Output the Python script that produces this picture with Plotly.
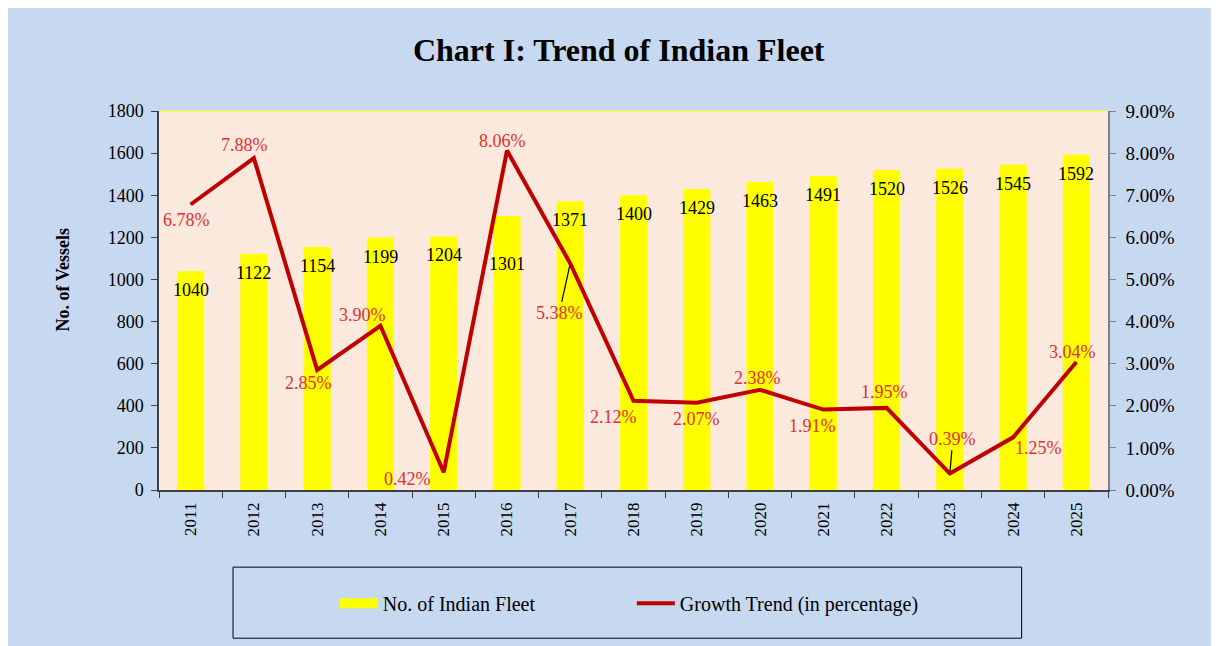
import plotly.graph_objects as go

# ---- data ----
years = ["2011", "2012", "2013", "2014", "2015", "2016", "2017", "2018",
         "2019", "2020", "2021", "2022", "2023", "2024", "2025"]
fleet = [1040, 1122, 1154, 1199, 1204, 1301, 1371, 1400, 1429, 1463, 1491,
         1520, 1526, 1545, 1592]
growth = [6.78, 7.88, 2.85, 3.90, 0.42, 8.06, 5.38, 2.12, 2.07, 2.38, 1.91,
          1.95, 0.39, 1.25, 3.04]
left_ticks = [0, 200, 400, 600, 800, 1000, 1200, 1400, 1600, 1800]
right_ticks = [0, 1, 2, 3, 4, 5, 6, 7, 8, 9]

title_text = "Chart I: Trend of Indian Fleet"
bar_name = "No. of Indian Fleet"
line_name = "Growth Trend (in percentage)"
ytitle = "No. of Vessels"

# ---- styling / label placement ----
SERIF = "Liberation Serif, Times New Roman, serif"
BG = "#C6D9F0"
PLOT_BG = "#FCE9DD"
BAR_C = "#FFFF00"
LINE_C = "#C00000"
PCT_C = "#E2302E"

bar_shift_default = -19
bar_shift_special = {"2016": -48}
# (dx, dy) screen pixel offsets for percentage labels
pct_offsets = {
    "2011": (-4, 16), "2012": (-9, -13), "2013": (-9, 13), "2014": (-18, -11),
    "2015": (-36, 7), "2016": (-4, -10), "2017": (-11, 50), "2018": (-20, 16),
    "2019": (0, 16), "2020": (-3, -12), "2021": (-11, 16), "2022": (-2, -16),
    "2023": (3, -35), "2024": (25, 11), "2025": (-4, -10),
}
arrow_years = {"2017", "2023"}

fig = go.Figure()
fig.add_trace(go.Bar(x=years, y=fleet, name=bar_name, marker_color=BAR_C,
                     marker_line_width=0, yaxis="y", showlegend=False))
# legend-only swatch so the bar key is drawn as a wide rectangle
fig.add_trace(go.Scatter(x=[None], y=[None], name=bar_name, mode="lines",
                         line=dict(color=BAR_C, width=12), yaxis="y"))
fig.add_trace(go.Scatter(x=years, y=growth, name=line_name, mode="lines",
                         line=dict(color=LINE_C, width=4), yaxis="y2"))

ann = []
for i, (yr, v) in enumerate(zip(years, fleet)):
    ann.append(dict(x=i, y=v, xref="x", yref="y", text=str(v), showarrow=False,
                    yshift=bar_shift_special.get(yr, bar_shift_default),
                    font=dict(family=SERIF, size=18, color="black")))
for i, (yr, g) in enumerate(zip(years, growth)):
    dx, dy = pct_offsets[yr]
    txt = f"{g:.2f}%"
    if yr in arrow_years:
        ann.append(dict(x=i, y=g, xref="x", yref="y2", text=txt, showarrow=True,
                        arrowhead=0, arrowwidth=1.2, arrowcolor="black",
                        ax=dx, ay=dy, standoff=2,
                        font=dict(family=SERIF, size=18, color=PCT_C)))
    else:
        ann.append(dict(x=i, y=g, xref="x", yref="y2", text=txt, showarrow=False,
                        xshift=dx, yshift=-dy,
                        font=dict(family=SERIF, size=18, color=PCT_C)))
ann.append(dict(x=-0.114, y=0.555, xref="paper", yref="paper", text=f"<b>{ytitle}</b>",
                textangle=-90, showarrow=False,
                font=dict(family=SERIF, size=18, color="black")))

shapes = [
    # top yellow edge of plot area
    dict(type="line", xref="paper", yref="paper", x0=0, x1=1, y0=1, y1=1,
         line=dict(color="#F5F07A", width=2), layer="above"),
    # legend frame
    dict(type="rect", xref="paper", yref="paper", x0=0.078, x1=0.909, y0=-0.391, y1=-0.2035,
         line=dict(color="black", width=1), fillcolor="rgba(0,0,0,0)", layer="above"),
]

fig.update_layout(
    width=1219, height=646,
    margin=dict(l=151, r=119, t=103, b=164),
    paper_bgcolor=BG, plot_bgcolor=PLOT_BG,
    title=dict(text=f"<b>{title_text}</b>", x=0.501, xanchor="center",
               y=1 - 42 / 646, yanchor="middle",
               font=dict(family=SERIF, size=32, color="black")),
    bargap=0.57,
    showlegend=True,
    legend=dict(orientation="h", x=0.1853, xanchor="left", y=-0.299, yanchor="middle",
                bgcolor="rgba(0,0,0,0)", font=dict(family=SERIF, size=20, color="black"),
                entrywidth=244, traceorder="normal", itemwidth=38),
    xaxis=dict(type="category", range=[-0.5, len(years) - 0.5], autorange=False,
               showgrid=False, showline=True, linecolor="#404040",
               linewidth=1.5, ticks="outside", tickson="boundaries", ticklen=6,
               tickcolor="#404040", tickangle=-90,
               tickfont=dict(family=SERIF, size=17, color="black"), mirror=False,
               ticklabelstandoff=4),
    yaxis=dict(range=[0, 1800], tickvals=left_ticks, showgrid=False, zeroline=False,
               showline=True, linecolor="#404040", linewidth=1.5, ticks="outside",
               ticklen=6, tickcolor="#404040",
               tickfont=dict(family=SERIF, size=18, color="black"),
               ticklabelstandoff=4),
    yaxis2=dict(range=[0, 9], tickvals=right_ticks,
                ticktext=[f"{v:.2f}%" for v in right_ticks],
                overlaying="y", side="right", showgrid=False, zeroline=False,
                showline=True, linecolor="#7F7F7F", linewidth=1.5, ticks="outside",
                ticklen=6, tickcolor="#7F7F7F",
                tickfont=dict(family=SERIF, size=19, color="black"),
                ticklabelstandoff=6),
    annotations=ann,
    shapes=shapes,
)

fig.write_html("out.html")
